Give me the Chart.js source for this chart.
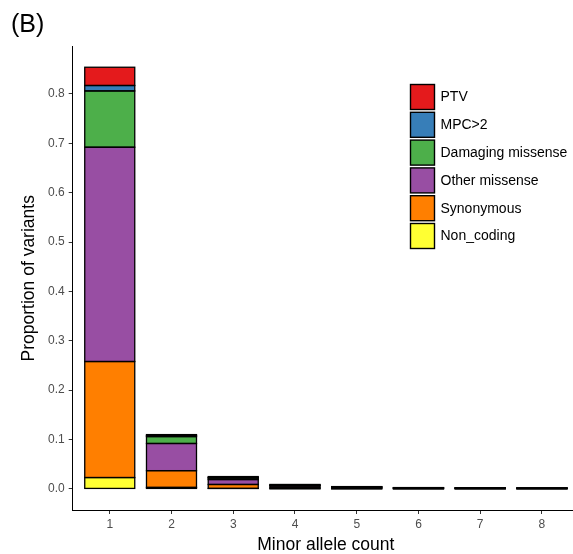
<!DOCTYPE html>
<html>
<head>
<meta charset="utf-8">
<script src="https://cdn.jsdelivr.net/npm/chart.js@4.4.1/dist/chart.umd.min.js"></script>
<style>
  html, body { margin: 0; padding: 0; background: #fff; overflow: hidden; }
</style>
</head>
<body>
<canvas id="chart" width="580" height="554"></canvas>
<script>
// Minor allele count categories and stacked proportions (bottom to top)
const alleleCounts = [1, 2, 3, 4, 5, 6, 7, 8];
const nonCoding    = [0.023, 0.003, 0.001, 0.0005, 0.0003, 0.0002, 0.0002, 0.0002];
const synonymous   = [0.235, 0.034, 0.008, 0.003, 0.0015, 0.0008, 0.0007, 0.0006];
const otherMiss    = [0.434, 0.055, 0.010, 0.003, 0.0016, 0.0009, 0.0008, 0.0007];
const damagingMiss = [0.114, 0.014, 0.003, 0.001, 0.0005, 0.0003, 0.0003, 0.0002];
const mpc2         = [0.011, 0.002, 0.001, 0.0005, 0.0003, 0.0002, 0.0001, 0.0001];
const ptv          = [0.037, 0.002, 0.002, 0.001, 0.0005, 0.0003, 0.0002, 0.0002];
const yTicks = [0, 0.1, 0.2, 0.3, 0.4, 0.5, 0.6, 0.7, 0.8];

const FONT = '"Liberation Sans", Arial, sans-serif';

const toPoints = values => values.map((v, i) => ({ x: alleleCounts[i], y: v }));

const series = [
  { label: 'Non_coding', values: nonCoding, color: '#FFFF33' },
  { label: 'Synonymous', values: synonymous, color: '#FF7F00' },
  { label: 'Other missense', values: otherMiss, color: '#984EA3' },
  { label: 'Damaging missense', values: damagingMiss, color: '#4DAF4A' },
  { label: 'MPC>2', values: mpc2, color: '#377EB8' },
  { label: 'PTV', values: ptv, color: '#E41A1C' }
];

// ggplot-style outline: stroke every bar segment centred on its edges,
// so even near-zero segments still show up as a black line
const barOutline = {
  id: 'barOutline',
  afterDatasetsDraw(chart) {
    const ctx = chart.ctx;
    ctx.save();
    ctx.strokeStyle = '#000';
    ctx.lineWidth = 1.3;
    chart.data.datasets.forEach((ds, di) => {
      chart.getDatasetMeta(di).data.forEach(bar => {
        const { x, y, base, width } = bar.getProps(['x', 'y', 'base', 'width'], true);
        ctx.strokeRect(x - width / 2, Math.min(y, base), width, Math.abs(base - y));
      });
    });
    ctx.restore();
  }
};

// legend box drawn inside the plot, top item = last dataset
const sideLegend = {
  id: 'sideLegend',
  afterDraw(chart) {
    const ctx = chart.ctx;
    const items = chart.data.datasets.slice().reverse();
    ctx.save();
    items.forEach((ds, i) => {
      const y = 84.5 + i * 27.8;
      ctx.fillStyle = ds.backgroundColor;
      ctx.fillRect(410.5, y, 24, 25);
      ctx.strokeStyle = '#000';
      ctx.lineWidth = 1.4;
      ctx.strokeRect(410.5, y, 24, 25);
      ctx.fillStyle = '#000';
      ctx.font = '14px ' + FONT;
      ctx.textBaseline = 'middle';
      ctx.textAlign = 'left';
      ctx.fillText(ds.label, 440.5, y + 13);
    });
    ctx.font = '25px ' + FONT;
    ctx.textBaseline = 'alphabetic';
    ctx.fillText('(B)', 11, 32);
    ctx.restore();
  }
};

const ctx = document.getElementById('chart').getContext('2d');
new Chart(ctx, {
  type: 'bar',
  data: {
    datasets: series.map(s => ({
      label: s.label,
      data: toPoints(s.values),
      backgroundColor: s.color,
      borderWidth: 0,
      inflateAmount: 0,
      barPercentage: 0.81,
      categoryPercentage: 1
    }))
  },
  options: {
    responsive: false,
    animation: false,
    layout: { padding: { left: 0, right: 1, top: 46.5, bottom: 0 } },
    plugins: {
      legend: { display: false },
      tooltip: { enabled: false }
    },
    scales: {
      x: {
        type: 'linear',
        stacked: true,
        offset: false,
        min: 0.4,
        max: 8.6,
        afterBuildTicks: scale => { scale.ticks = alleleCounts.map(v => ({ value: v })); },
        afterFit: scale => { scale.height = 44; },
        grid: { offset: false, drawOnChartArea: false, drawTicks: true, tickLength: 4, tickColor: '#333' },
        border: { display: true, color: '#000', width: 1 },
        ticks: {
          color: '#4d4d4d',
          padding: 3,
          font: { family: FONT, size: 12 },
          callback: v => String(v)
        },
        title: {
          display: true,
          text: 'Minor allele count',
          color: '#000',
          font: { family: FONT, size: 17.5, lineHeight: 1 },
          padding: { top: 0, bottom: 0 }
        }
      },
      y: {
        stacked: true,
        min: -0.0427,
        max: 0.896,
        afterBuildTicks: scale => { scale.ticks = yTicks.map(v => ({ value: v })); },
        afterFit: scale => { scale.width = 72.7; },
        grid: { drawOnChartArea: false, drawTicks: true, tickLength: 4, tickColor: '#333' },
        border: { display: true, color: '#000', width: 1 },
        ticks: {
          color: '#4d4d4d',
          padding: 4,
          font: { family: FONT, size: 12 },
          callback: v => v.toFixed(1)
        },
        title: {
          display: true,
          text: 'Proportion of variants',
          color: '#000',
          font: { family: FONT, size: 17.5, lineHeight: 1 },
          padding: { top: 20.75, bottom: 0 }
        }
      }
    }
  },
  plugins: [barOutline, sideLegend]
});
</script>
</body>
</html>
